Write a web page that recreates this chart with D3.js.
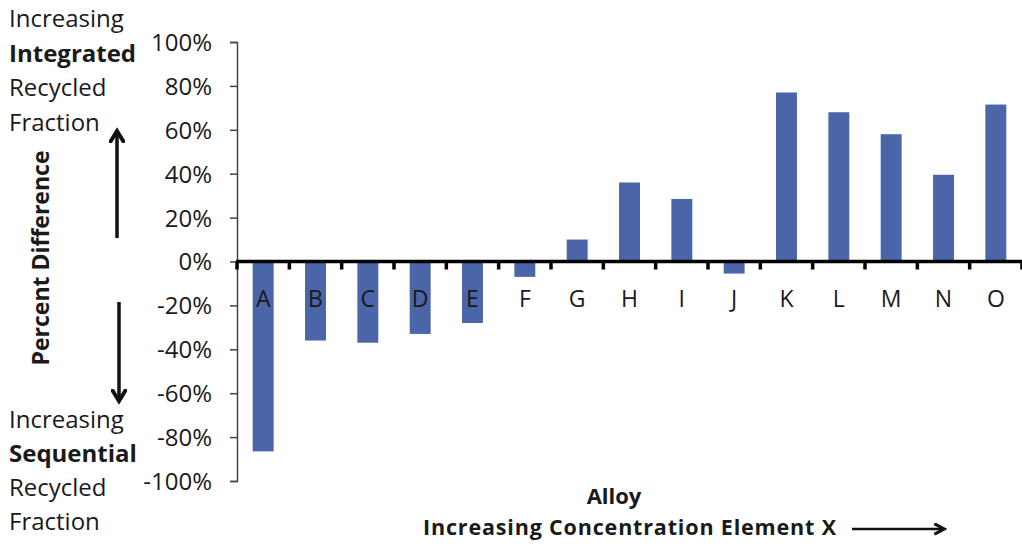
<!DOCTYPE html>
<html><head><meta charset="utf-8">
<script src="https://cdn.jsdelivr.net/npm/d3@7"></script>
<style>body{margin:0;background:#fff;} svg{display:block;} text{font-family:"Open Sans",sans-serif;fill:#1a1a1a;}</style>
</head><body>
<svg id="c" width="1022" height="546"></svg>
<script>
const categories = ["A","B","C","D","E","F","G","H","I","J","K","L","M","N","O"];
const values = [-0.865,-0.36,-0.37,-0.33,-0.28,-0.07,0.10,0.36,0.285,-0.055,0.77,0.68,0.58,0.395,0.715];
const yTicks = [1,0.8,0.6,0.4,0.2,0,-0.2,-0.4,-0.6,-0.8,-1];

const svg = d3.select("#c");
const x0 = 237, x1 = 1022, yTop = 42, yBot = 481;
const x = d3.scaleBand().domain(categories).range([x0, x1]).paddingInner(0.6).paddingOuter(0.3);
const xb = d3.scaleBand().domain(categories).range([x0, x1]);
const y = d3.scaleLinear().domain([-1, 1]).range([yBot, yTop]);

// y axis
const pct = d => Math.round(d * 100) + "%";
const yAxis = d3.axisLeft(y).tickValues(yTicks).tickFormat(pct).tickSize(7).tickPadding(18);
const gy = svg.append("g").attr("transform", `translate(${x0},0)`).call(yAxis);
gy.select(".domain").attr("stroke", "#444").attr("stroke-width", 1.5);
gy.selectAll(".tick line").attr("stroke", "#444").attr("stroke-width", 1.5);
gy.selectAll(".tick text").style("font-size", "24px").style("font-family", "'Open Sans',sans-serif").attr("fill", "#1a1a1a").attr("dy", "0.35em");

// bars
svg.append("g").selectAll("rect").data(categories).join("rect")
  .attr("x", d => x(d))
  .attr("width", x.bandwidth())
  .attr("y", (d,i) => y(Math.max(0, values[i])))
  .attr("height", (d,i) => Math.abs(y(values[i]) - y(0)))
  .attr("fill", "#4a65a8");

// x axis at zero
svg.append("line").attr("x1", x0 - 1).attr("x2", x1).attr("y1", y(0)).attr("y2", y(0))
  .attr("stroke", "#000").attr("stroke-width", 3.5);
svg.append("g").selectAll("line").data(categories.concat(["_end"])).join("line")
  .attr("x1", (d,i) => x0 + i * xb.step()).attr("x2", (d,i) => x0 + i * xb.step())
  .attr("y1", y(0)).attr("y2", y(0) + 8)
  .attr("stroke", "#000").attr("stroke-width", 3.5);

// category labels
svg.append("g").selectAll("text").data(categories).join("text")
  .attr("x", d => xb(d) + xb.bandwidth()/2)
  .attr("y", y(0) + 45)
  .attr("text-anchor", "middle")
  .style("font-size", "23px")
  .text(d => d);

// left annotations
const topLines = [["Increasing",false],["Integrated",true],["Recycled",false],["Fraction",false]];
topLines.forEach((l,i) => {
  svg.append("text").attr("x", 9).attr("y", 27 + i*34.5)
    .style("font-size", "24px").style("font-weight", l[1] ? "bold" : "normal").text(l[0]);
});
const botLines = [["Increasing",false],["Sequential",true],["Recycled",false],["Fraction",false]];
botLines.forEach((l,i) => {
  svg.append("text").attr("x", 9).attr("y", 428 + i*34)
    .style("font-size", "24px").style("font-weight", l[1] ? "bold" : "normal").text(l[0]);
});

svg.append("text").attr("transform", "translate(49,258) rotate(-90)")
  .attr("text-anchor", "middle").style("font-size", "23px").style("font-weight", "bold")
  .text("Percent Difference");

// arrows
const defs = svg.append("defs");
defs.append("marker").attr("id", "ah").attr("viewBox", "0 0 10 10").attr("refX", 7.5).attr("refY", 5)
  .attr("markerUnits", "userSpaceOnUse").attr("markerWidth", 16).attr("markerHeight", 16).attr("orient", "auto")
  .append("path").attr("d", "M1,1 L7.5,5 L1,9").attr("fill", "none").attr("stroke", "#111").attr("stroke-width", 2.4)
  .attr("stroke-linecap", "round");
defs.append("marker").attr("id", "ah2").attr("viewBox", "0 0 10 10").attr("refX", 7.5).attr("refY", 5)
  .attr("markerUnits", "userSpaceOnUse").attr("markerWidth", 13).attr("markerHeight", 13).attr("orient", "auto")
  .append("path").attr("d", "M1,1.5 L7.5,5 L1,8.5").attr("fill", "none").attr("stroke", "#111").attr("stroke-width", 2.4)
  .attr("stroke-linecap", "round");
svg.append("line").attr("x1", 117).attr("x2", 117).attr("y1", 238).attr("y2", 131)
  .attr("stroke", "#111").attr("stroke-width", 3.5).attr("marker-end", "url(#ah)");
svg.append("line").attr("x1", 119).attr("x2", 119).attr("y1", 302).attr("y2", 401)
  .attr("stroke", "#111").attr("stroke-width", 3.5).attr("marker-end", "url(#ah)");

// x titles
svg.append("text").attr("x", 614).attr("y", 504).attr("text-anchor", "middle")
  .style("font-size", "22px").style("font-weight", "bold").text("Alloy");
svg.append("text").attr("x", 423).attr("y", 535)
  .attr("textLength", 413).attr("lengthAdjust", "spacing")
  .style("font-size", "21.5px").style("font-weight", "bold").text("Increasing Concentration Element X");
svg.append("line").attr("x1", 852).attr("x2", 944).attr("y1", 529).attr("y2", 529)
  .attr("stroke", "#111").attr("stroke-width", 2.5).attr("marker-end", "url(#ah2)");
</script>
</body></html>
